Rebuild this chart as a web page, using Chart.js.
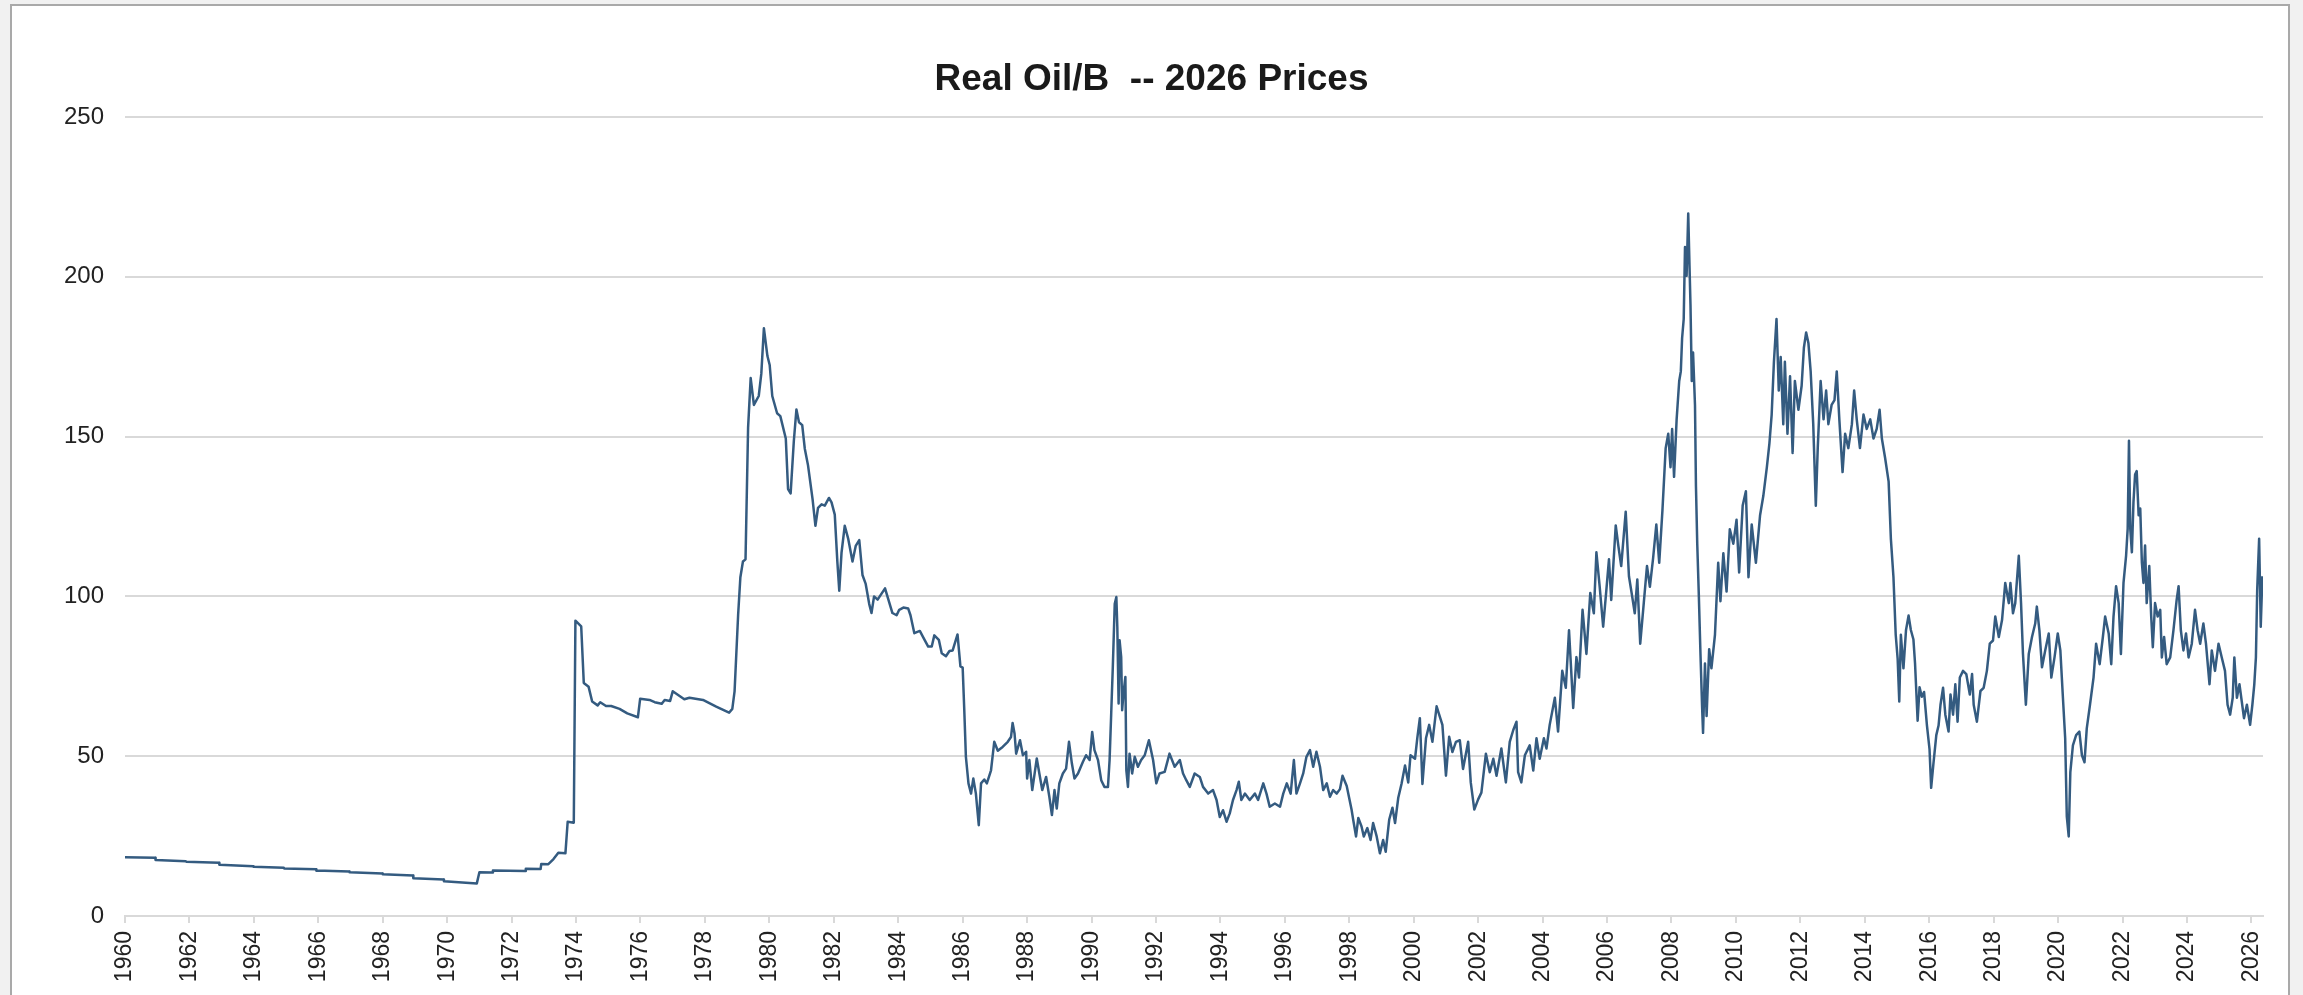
<!DOCTYPE html>
<html>
<head>
<meta charset="utf-8">
<script src="https://cdn.jsdelivr.net/npm/chart.js@4.4.1/dist/chart.umd.min.js"></script>
<style>
  html, body { margin: 0; padding: 0; background: #f1f1f1; overflow: hidden; }
  #frame { position: absolute; left: 10px; top: 4px; width: 2280px; height: 1100px; background: #fff; border: 2px solid #a9a9a9; box-sizing: border-box; }
  #c { position: absolute; left: 0; top: 0; }
</style>
</head>
<body>
<div id="frame"></div>
<canvas id="c" width="2303" height="995"></canvas>
<script>
// ---- Data: [decimal year, real oil price $/bbl in 2026 dollars] ----
const oil1960to1973 = [
  [1960.0,18.4],[1960.94,18.2],[1960.95,17.5],[1961.89,17.1],[1961.9,17.0],[1962.92,16.7],[1962.93,16.0],
  [1963.98,15.6],[1963.99,15.4],[1964.93,15.1],[1964.94,14.9],[1965.93,14.6],[1965.94,14.2],[1966.96,13.9],
  [1966.97,13.7],[1967.99,13.3],[1968.0,13.1],[1968.94,12.7],[1968.95,11.8],[1969.89,11.4],[1969.9,10.9],
  [1970.92,10.2],[1971.0,13.7],[1971.4,13.6],[1971.42,14.2],[1972.42,14.1],[1972.44,14.8],[1972.9,14.7],
  [1972.92,16.3],[1973.14,16.2],[1973.3,17.8],[1973.45,19.8],[1973.67,19.6],[1973.74,29.5],[1973.93,29.2]
];
const oil1974to1985 = [
  [1973.98,92.4],[1974.16,90.6],[1974.24,72.9],[1974.39,71.7],[1974.5,67.1],[1974.67,65.9],[1974.75,66.9],
  [1974.93,65.7],[1975.09,65.7],[1975.35,64.8],[1975.59,63.4],[1975.92,62.2],[1975.99,68.0],[1976.28,67.6],
  [1976.44,66.9],[1976.66,66.4],[1976.75,67.6],[1976.92,67.3],[1977.0,70.3],[1977.36,67.8],[1977.52,68.3],
  [1977.94,67.6],[1978.35,65.5],[1978.75,63.6],[1978.85,64.8],[1978.92,70.3],[1979.03,94.1],[1979.1,106.0],
  [1979.18,110.9],[1979.26,111.6],[1979.34,152.9],[1979.42,168.3],[1979.52,159.9],[1979.67,162.7],
  [1979.75,169.7],[1979.83,183.9],[1979.94,175.2],[1980.01,172.4],[1980.09,162.7],[1980.24,157.3],
  [1980.34,156.4],[1980.51,149.4],[1980.58,133.6],[1980.66,132.2],[1980.76,148.7],[1980.84,158.5],
  [1980.92,154.5],[1981.02,153.6],[1981.1,146.2],[1981.2,141.0],[1981.34,130.5],[1981.43,122.1],
  [1981.51,127.7],[1981.62,128.8],[1981.72,128.4],[1981.85,130.8],[1981.93,129.4],[1982.03,125.6],
  [1982.11,110.9],[1982.17,101.8],[1982.24,113.7],[1982.34,122.1],[1982.45,117.9],[1982.58,110.9],
  [1982.68,115.8],[1982.79,117.6],[1982.89,106.7],[1982.99,103.9],[1983.1,97.6],[1983.17,94.8],
  [1983.25,100.0],[1983.36,99.0],[1983.59,102.5],[1983.82,94.8],[1983.95,94.1],[1984.03,95.8],
  [1984.16,96.5],[1984.31,96.2],[1984.38,94.1],[1984.5,88.5],[1984.67,89.2],[1984.78,87.1],[1984.93,84.3],
  [1985.04,84.3],[1985.12,87.8],[1985.26,86.4],[1985.35,82.2],[1985.48,81.3]
];
const oil1985to1997 = [
  [1985.59,82.9],[1985.69,83.1],[1985.84,88.1],[1985.93,78.1],[1986.0,77.7],[1986.05,64.4],[1986.1,49.8],
  [1986.18,41.5],[1986.26,38.3],[1986.33,43.0],[1986.41,38.3],[1986.5,28.4],[1986.57,41.5],[1986.67,42.7],
  [1986.75,41.5],[1986.88,45.6],[1986.98,54.5],[1987.09,51.7],[1987.24,52.9],[1987.4,54.5],[1987.5,56.0],
  [1987.55,60.4],[1987.61,57.1],[1987.66,50.8],[1987.78,55.0],[1987.87,50.3],[1987.97,51.4],[1988.0,43.0],
  [1988.07,48.8],[1988.16,39.4],[1988.3,49.3],[1988.38,44.6],[1988.47,39.4],[1988.59,43.5],[1988.69,37.3],
  [1988.77,31.6],[1988.85,39.4],[1988.92,33.6],[1989.0,41.5],[1989.11,44.6],[1989.21,46.1],[1989.3,54.5],
  [1989.39,47.7],[1989.47,43.0],[1989.58,44.6],[1989.73,48.2],[1989.83,50.3],[1989.94,48.8],[1990.02,57.6],
  [1990.09,51.9],[1990.2,48.8],[1990.3,42.5],[1990.4,40.4],[1990.51,40.4],[1990.56,48.8],[1990.61,63.3],
  [1990.66,77.9],[1990.72,97.7],[1990.77,99.8],[1990.8,90.4],[1990.84,66.5],[1990.87,86.3],[1990.92,81.0],
  [1990.95,64.4],[1990.99,69.6],[1991.05,74.8],[1991.08,45.6],[1991.13,40.4],[1991.18,50.8],[1991.26,44.6],
  [1991.34,49.8],[1991.44,46.7],[1991.54,48.8],[1991.65,50.3],[1991.78,55.0],[1991.91,48.8],[1992.01,41.5],
  [1992.11,44.6],[1992.27,45.1],[1992.42,50.8],[1992.58,46.7],[1992.74,48.8],[1992.84,44.6],[1992.94,42.5],
  [1993.05,40.4],[1993.2,44.6],[1993.36,43.5],[1993.46,40.4],[1993.62,38.3],[1993.77,39.4],[1993.88,36.3],
  [1993.98,31.0],[1994.08,33.1],[1994.19,29.5],[1994.29,32.1],[1994.39,36.3],[1994.5,39.4],[1994.57,42.0],
  [1994.65,36.3],[1994.76,38.3],[1994.91,36.3],[1995.07,38.3],[1995.17,36.3],[1995.33,41.5],[1995.43,38.3],
  [1995.53,34.2],[1995.69,35.2],[1995.85,34.2],[1995.95,38.3],[1996.06,41.5],[1996.18,38.3],[1996.28,48.8],
  [1996.36,38.3],[1996.47,41.5],[1996.57,44.6],[1996.67,49.8],[1996.78,51.9],[1996.88,46.7],[1996.98,51.4],
  [1997.09,46.7],[1997.19,39.4],[1997.3,41.5],[1997.4,37.3],[1997.5,39.4],[1997.61,38.3]
];
const oil1997to2007 = [
  [1997.71,39.7],[1997.79,43.9],[1997.92,40.7],[1998.07,33.3],[1998.12,30.2],[1998.21,24.9],[1998.28,30.7],
  [1998.38,28.0],[1998.45,24.9],[1998.56,27.5],[1998.66,23.8],[1998.74,29.1],[1998.85,24.9],[1998.95,19.6],
  [1999.05,23.8],[1999.13,20.1],[1999.24,30.2],[1999.34,33.9],[1999.42,29.1],[1999.52,37.0],[1999.62,41.3],
  [1999.73,47.1],[1999.83,41.8],[1999.9,50.3],[2000.04,49.2],[2000.11,55.6],[2000.19,61.9],[2000.27,41.3],
  [2000.38,55.6],[2000.48,59.8],[2000.58,54.5],[2000.71,65.6],[2000.79,63.0],[2000.89,59.8],[2001.0,43.9],
  [2001.1,56.1],[2001.2,51.3],[2001.31,54.5],[2001.43,55.0],[2001.53,46.0],[2001.69,54.5],[2001.77,41.8],
  [2001.88,33.3],[2002.0,36.5],[2002.1,38.6],[2002.24,50.8],[2002.36,45.0],[2002.47,49.2],[2002.57,43.9],
  [2002.72,52.4],[2002.86,41.8],[2002.98,54.5],[2003.09,58.2],[2003.19,60.8],[2003.24,45.0],[2003.34,41.8],
  [2003.45,50.3],[2003.6,53.4],[2003.71,45.5],[2003.81,55.6],[2003.91,49.2],[2004.04,55.6],[2004.12,52.4],
  [2004.22,59.8],[2004.38,68.3],[2004.48,57.7],[2004.61,76.7],[2004.72,71.4],[2004.82,89.4],[2004.95,65.1],
  [2005.05,81.0],[2005.13,74.6],[2005.24,95.8],[2005.36,82.0],[2005.48,101.1],[2005.59,94.7],[2005.67,113.8],
  [2005.77,103.2],[2005.88,90.5],[2005.98,102.1],[2006.06,111.6],[2006.13,98.9],[2006.27,122.2],
  [2006.35,115.9],[2006.44,109.5],[2006.58,126.5],[2006.68,106.3],[2006.78,100.0],[2006.86,94.7],
  [2006.94,105.3],[2007.03,85.2],[2007.14,97.9],[2007.24,109.5]
];
const oil2007to2016 = [
  [2007.33,103.0],[2007.43,112.0],[2007.53,122.5],[2007.62,110.5],[2007.72,127.0],[2007.82,146.4],
  [2007.9,150.9],[2007.97,140.4],[2008.02,152.4],[2008.08,137.4],[2008.16,155.4],[2008.24,167.4],
  [2008.29,170.4],[2008.33,180.8],[2008.38,186.8],[2008.42,209.3],[2008.47,200.3],[2008.52,219.8],
  [2008.56,203.3],[2008.59,191.3],[2008.63,167.4],[2008.67,176.3],[2008.73,159.9],[2008.76,134.4],
  [2008.8,116.5],[2008.85,100.0],[2008.9,82.0],[2008.95,65.6],[2008.98,57.3],[2009.04,79.0],[2009.09,62.6],
  [2009.17,83.5],[2009.24,77.5],[2009.35,88.0],[2009.45,110.5],[2009.52,98.5],[2009.61,113.5],[2009.71,101.5],
  [2009.81,121.0],[2009.92,116.5],[2010.02,124.0],[2010.1,107.5],[2010.21,128.4],[2010.31,132.9],
  [2010.39,106.0],[2010.49,122.5],[2010.62,110.5],[2010.75,125.4],[2010.85,131.4],[2010.96,140.4],
  [2011.04,147.9],[2011.11,156.9],[2011.18,173.4],[2011.26,186.8],[2011.33,164.4],[2011.39,174.9],
  [2011.47,153.9],[2011.52,173.4],[2011.6,150.9],[2011.68,168.9],[2011.76,144.9],[2011.83,167.4],
  [2011.94,158.4],[2012.04,165.9],[2012.11,177.8],[2012.18,182.6],[2012.25,179.3],[2012.32,170.4],
  [2012.4,153.9],[2012.48,128.4],[2012.54,146.4],[2012.63,167.4],[2012.72,155.4],[2012.8,164.4],
  [2012.87,153.9],[2012.97,159.9],[2013.06,161.4],[2013.13,170.4],[2013.21,155.4],[2013.31,138.9],
  [2013.39,150.9],[2013.49,146.4],[2013.6,153.9],[2013.67,164.4],[2013.75,155.4],[2013.85,146.4],
  [2013.96,156.9],[2014.06,152.4],[2014.17,155.4],[2014.27,149.4],[2014.37,152.4],[2014.46,158.4],
  [2014.53,149.4],[2014.63,143.4],[2014.74,135.9],[2014.81,118.0],[2014.89,106.0],[2014.96,88.0],
  [2015.02,80.5],[2015.07,67.1],[2015.12,88.0],[2015.2,77.5],[2015.28,89.5],[2015.36,94.0],[2015.43,89.5],
  [2015.51,86.5],[2015.56,79.0],[2015.64,61.1],[2015.7,71.6],[2015.77,68.6],[2015.84,70.1],[2015.93,59.6],
  [2016.01,52.1],[2016.06,40.1],[2016.13,47.6],[2016.22,56.6],[2016.29,59.6]
];
const oil2016to2026 = [
  [2016.35,66.1],[2016.43,71.4],[2016.5,63.0],[2016.6,57.7],[2016.66,69.3],[2016.74,63.0],[2016.81,72.5],
  [2016.88,60.8],[2016.95,74.6],[2017.05,76.7],[2017.15,75.7],[2017.26,69.3],[2017.33,75.7],[2017.38,66.1],
  [2017.48,60.8],[2017.59,70.4],[2017.69,71.4],[2017.79,76.7],[2017.88,85.2],[2017.98,86.2],[2018.05,93.7],
  [2018.16,87.3],[2018.26,92.6],[2018.36,104.2],[2018.47,97.9],[2018.52,104.2],[2018.6,94.7],[2018.67,97.9],
  [2018.78,112.7],[2018.85,97.9],[2018.91,82.0],[2019.0,66.1],[2019.09,82.0],[2019.19,87.3],[2019.29,91.5],
  [2019.34,96.8],[2019.42,89.4],[2019.5,77.8],[2019.6,83.1],[2019.71,88.4],[2019.79,74.6],[2019.89,81.0],
  [2019.99,88.4],[2020.07,83.1],[2020.15,68.3],[2020.22,55.6],[2020.27,31.2],[2020.33,24.9],[2020.38,45.0],
  [2020.46,53.4],[2020.56,56.6],[2020.66,57.7],[2020.74,50.3],[2020.82,48.1],[2020.89,58.7],[2020.99,66.1],
  [2021.1,74.6],[2021.18,85.2],[2021.29,78.8],[2021.39,87.3],[2021.46,93.7],[2021.57,88.4],[2021.65,78.8],
  [2021.72,93.7],[2021.8,103.2],[2021.88,97.9],[2021.95,82.0],[2022.03,104.2],[2022.11,112.7],[2022.16,121.2],
  [2022.2,148.7],[2022.24,121.2],[2022.29,113.8],[2022.34,129.6],[2022.39,138.1],[2022.44,139.2],
  [2022.5,125.4],[2022.55,127.5],[2022.6,110.6],[2022.65,104.2],[2022.7,115.9],[2022.75,97.9],[2022.83,109.5],
  [2022.89,93.7],[2022.94,84.1],[2023.01,97.9],[2023.09,93.7],[2023.17,95.8],[2023.22,80.9],[2023.29,87.3],
  [2023.37,78.8],[2023.48,80.9],[2023.58,89.4],[2023.68,98.9],[2023.74,103.2],[2023.81,89.4],[2023.89,83.1],
  [2023.97,88.4],[2024.05,80.9],[2024.15,85.2],[2024.25,95.8],[2024.33,89.4],[2024.41,85.2],[2024.51,91.5],
  [2024.59,85.2],[2024.7,72.5],[2024.77,83.1],[2024.87,76.7],[2024.98,85.2],[2025.08,80.9],[2025.18,76.7],
  [2025.26,66.1],[2025.34,63.0],[2025.42,68.3],[2025.47,80.9],[2025.55,68.3],[2025.63,72.5],[2025.7,67.2],
  [2025.77,61.9],[2025.86,66.1],[2025.96,59.8],[2026.03,66.1],[2026.09,72.5],[2026.14,80.9],[2026.18,102.1],
  [2026.24,118.0],[2026.29,90.5],[2026.34,106.3]
];
const xTickYears = [1960,1962,1964,1966,1968,1970,1972,1974,1976,1978,1980,1982,1984,1986,1988,1990,1992,
  1994,1996,1998,2000,2002,2004,2006,2008,2010,2012,2014,2016,2018,2020,2022,2024,2026];
const yTickValues = [0, 50, 100, 150, 200, 250];
const chartTitle = 'Real Oil/B  -- 2026 Prices';

const allPoints = [].concat(oil1960to1973, oil1974to1985, oil1985to1997, oil1997to2007, oil2007to2016, oil2016to2026)
  .map(p => ({ x: p[0], y: p[1] }));
const FONT = "'Liberation Sans', Arial, Helvetica, sans-serif";

new Chart(document.getElementById('c'), {
  type: 'line',
  data: {
    datasets: [{
      data: allPoints,
      borderColor: '#345b80',
      borderWidth: 2.5,
      pointRadius: 0,
      tension: 0,
      fill: false,
      borderJoinStyle: 'round'
    }]
  },
  options: {
    responsive: false,
    animation: false,
    events: [],
    layout: { padding: { left: 0, right: 0, top: 0, bottom: 0 } },
    plugins: {
      legend: { display: false },
      tooltip: { enabled: false },
      title: {
        display: true,
        text: chartTitle,
        color: '#1a1a1a',
        font: { family: FONT, size: 37, weight: 'bold' },
        padding: { top: 58, bottom: 14.6 }
      }
    },
    scales: {
      x: {
        type: 'linear',
        min: 1960,
        max: 2026.36,
        afterBuildTicks: s => { s.ticks = xTickYears.map(v => ({ value: v })); },
        afterFit: s => { s.height = 79; },
        ticks: {
          autoSkip: false, minRotation: 90, maxRotation: 90, padding: 8,
          color: '#222', font: { family: FONT, size: 23 },
          callback: v => String(v)
        },
        grid: { drawOnChartArea: false, drawTicks: true, tickLength: 7, color: '#d9d9d9', lineWidth: 2 },
        border: { display: true, color: '#d9d9d9', width: 2 }
      },
      y: {
        min: 0,
        max: 250,
        afterBuildTicks: s => { s.ticks = yTickValues.map(v => ({ value: v })); },
        afterFit: s => { s.width = 125; },
        ticks: { padding: 21, color: '#222', font: { family: FONT, size: 24 }, callback: v => String(v) },
        grid: { drawTicks: false, color: '#d9d9d9', lineWidth: 2 },
        border: { display: false }
      },
      yRightSpace: {
        position: 'right',
        display: true,
        grid: { display: false },
        border: { display: false },
        ticks: { display: false },
        afterFit: s => { s.width = 40; }
      }
    }
  }
});
</script>
</body>
</html>
